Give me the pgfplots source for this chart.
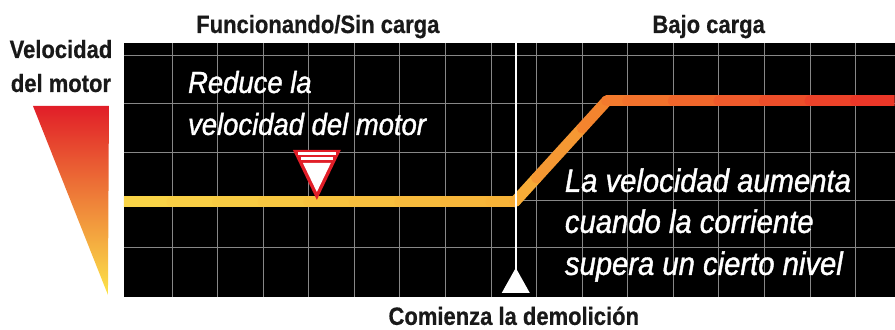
\documentclass[border=0pt]{standalone}
\usepackage{pgfplots}
\pgfplotsset{compat=1.18}
\usepackage{fontspec}
\setmainfont{Liberation Sans}
\newfontfamily\lblfont{Liberation Sans}[FakeStretch=0.88, FakeBold=0.6]
\newfontfamily\notefont{Liberation Sans}[FakeStretch=0.9, FakeBold=1.2]
\definecolor{gridgray}{RGB}{135,135,135}
\definecolor{labeltext}{RGB}{25,25,25}
\definecolor{markred}{RGB}{225,30,40}

\begin{document}
\begin{tikzpicture}
\begin{axis}[
  scale only axis,
  width=771pt, height=254pt,
  xmin=124, xmax=895, ymin=33, ymax=287,
  axis background/.style={fill=black},
  axis line style={draw=none},
  xtick={172,217.6,263.2,308.8,354.4,400,445.6,491.2,536.8,582.4,628,673.6,719.2,764.8,810.4,856},
  ytick={82,130,178,227,275},
  xticklabels={}, yticklabels={},
  major tick length=0pt,
  grid=major,
  grid style={gridgray, line width=0.8pt},
  clip mode=individual,
  colormap={speed}{rgb255(0pt)=(249,214,72) rgb255(391pt)=(247,178,56) rgb255(483pt)=(243,125,45) rgb255(771pt)=(234,50,40)},
  point meta min=124, point meta max=895,
]
% invisible frame = whole picture
\path (axis cs:0,0) rectangle (axis cs:895,330);

% motor speed line, read at each grid column
\addplot[mesh, point meta=x, line width=11pt, line cap=round] coordinates {
  (124,128) (172,128) (217.6,128) (263.2,128) (308.8,128) (354.4,128)
  (400,128) (445.6,128) (491.2,128) (515,128) (536.8,152) (582.4,202)
  (607,229) (628,229) (673.6,229) (719.2,229) (764.8,229) (810.4,229)
  (856,229) (895,229)
};

% start of demolition
\addplot[white, line width=1.5pt] coordinates {(516,287) (516,50)};
\addplot[fill=white, draw=none] coordinates {(502,37) (530,37) (516,62)} -- cycle;

% speed reduction marker
\addplot[fill=markred, draw=none] coordinates {(293,180) (341,180) (317,130)} -- cycle;
\addplot[white, line width=2.2pt] coordinates {(298,176.5) (336,176.5)};
\addplot[white, line width=2.2pt] coordinates {(301,171.5) (333,171.5)};
\addplot[fill=white, draw=none] coordinates {(303,167) (331,167) (317,138)} -- cycle;

% left scale wedge
\shade[top color=markred, middle color={rgb,255:red,242;green,128;blue,40}, bottom color={rgb,255:red,252;green,228;blue,74}]
  (axis cs:33,224) -- (axis cs:109,224) -- (axis cs:108,35) -- cycle;

\tikzset{lbl/.style={anchor=base, inner sep=0pt, labeltext, font=\lblfont\bfseries\fontsize{25}{25}\selectfont}}
\node[lbl] at (axis cs:318,297) {Funcionando/Sin carga};
\node[lbl] at (axis cs:709,297) {Bajo carga};
\node[lbl] at (axis cs:61,272) {Velocidad};
\node[lbl] at (axis cs:61,238) {del motor};
\node[lbl] at (axis cs:514,5) {Comienza la demolición};

\tikzset{note/.style={anchor=base west, inner sep=0pt, white, font=\notefont\itshape\fontsize{30.5}{30.5}\selectfont}}
\node[note] at (axis cs:188,237) {Reduce la};
\node[note] at (axis cs:188,195) {velocidad del motor};
\tikzset{note2/.style={note, font=\notefont\itshape\fontsize{32.5}{32.5}\selectfont}}
\node[note2] at (axis cs:565,138) {La velocidad aumenta};
\node[note2] at (axis cs:565,97) {cuando la corriente};
\node[note2] at (axis cs:565,55) {supera un cierto nivel};
\end{axis}
\end{tikzpicture}
\end{document}
